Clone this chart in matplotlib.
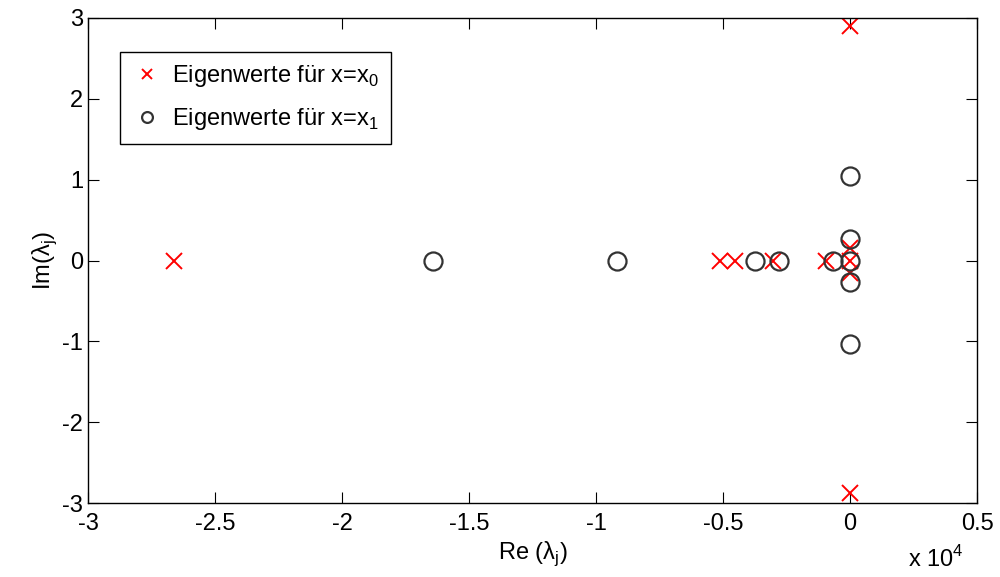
import matplotlib
matplotlib.use("Agg")
import matplotlib.pyplot as plt
import numpy as np

plt.rcParams['font.family'] = ['Liberation Sans', 'DejaVu Sans']
plt.rcParams['mathtext.fontset'] = 'custom'
plt.rcParams['mathtext.rm'] = 'Liberation Sans'

# eigenvalues for x = x0 (red crosses)
re_x0 = [-26600, -5120, -4530, -3030, -940, 0, 0, 0, 0, 0]
im_x0 = [0, 0, 0, 0, 0, 0, 0.15, -0.15, 2.9, -2.87]

# eigenvalues for x = x1 (black circles)
re_x1 = [-16400, -9170, -3740, -2800, -670, 0, 0, 0, 0, 0]
im_x1 = [0, 0, 0, 0, 0, 0, 1.04, -1.03, 0.27, -0.26]

fig = plt.figure(figsize=(10, 5.77), dpi=100)
ax = fig.add_axes([0.088, 0.128, 0.889, 0.841])

ax.plot(np.array(re_x0) / 1e4, im_x0, 'x', color='red', markersize=12,
        markeredgewidth=1.4, label='Eigenwerte für x=x$_{\\mathrm{0}}$')
ax.plot(np.array(re_x1) / 1e4, im_x1, 'o', color='#333333', markersize=13,
        markerfacecolor='none', markeredgewidth=1.6,
        label='Eigenwerte für x=x$_{\\mathrm{1}}$')

ax.set_xlim(-3, 0.5)
ax.set_ylim(-3, 3)
ax.set_xticks(np.arange(-3, 0.51, 0.5))
ax.set_xticklabels(['-3', '-2.5', '-2', '-1.5', '-1', '-0.5', '0', '0.5'])
ax.set_yticks(np.arange(-3, 3.1, 1))
ax.set_yticklabels(['-3', '-2', '-1', '0', '1', '2', '3'])
ax.tick_params(direction='in', top=True, right=True, labelsize=17, length=8)
ax.tick_params(axis='x', pad=7)
for s in ax.spines.values():
    s.set_linewidth(1.0)

ax.set_xlabel('Re (λ$_{\\mathrm{j}}$)', fontsize=17, labelpad=3)
ax.set_ylabel('Im(λ$_{\\mathrm{j}}$)', fontsize=17, labelpad=2)
fig.text(0.908, 0.018, 'x 10$^{\\mathrm{4}}$', fontsize=17)

leg = ax.legend(loc='upper left', bbox_to_anchor=(0.023, 0.955), fontsize=17,
                fancybox=False, edgecolor='black', framealpha=1,
                handletextpad=0.4, borderpad=0.5, markerscale=0.6,
                handlelength=1.3, labelspacing=0.7)
leg.get_frame().set_linewidth(1.0)

fig.savefig('out.png', dpi=100)
